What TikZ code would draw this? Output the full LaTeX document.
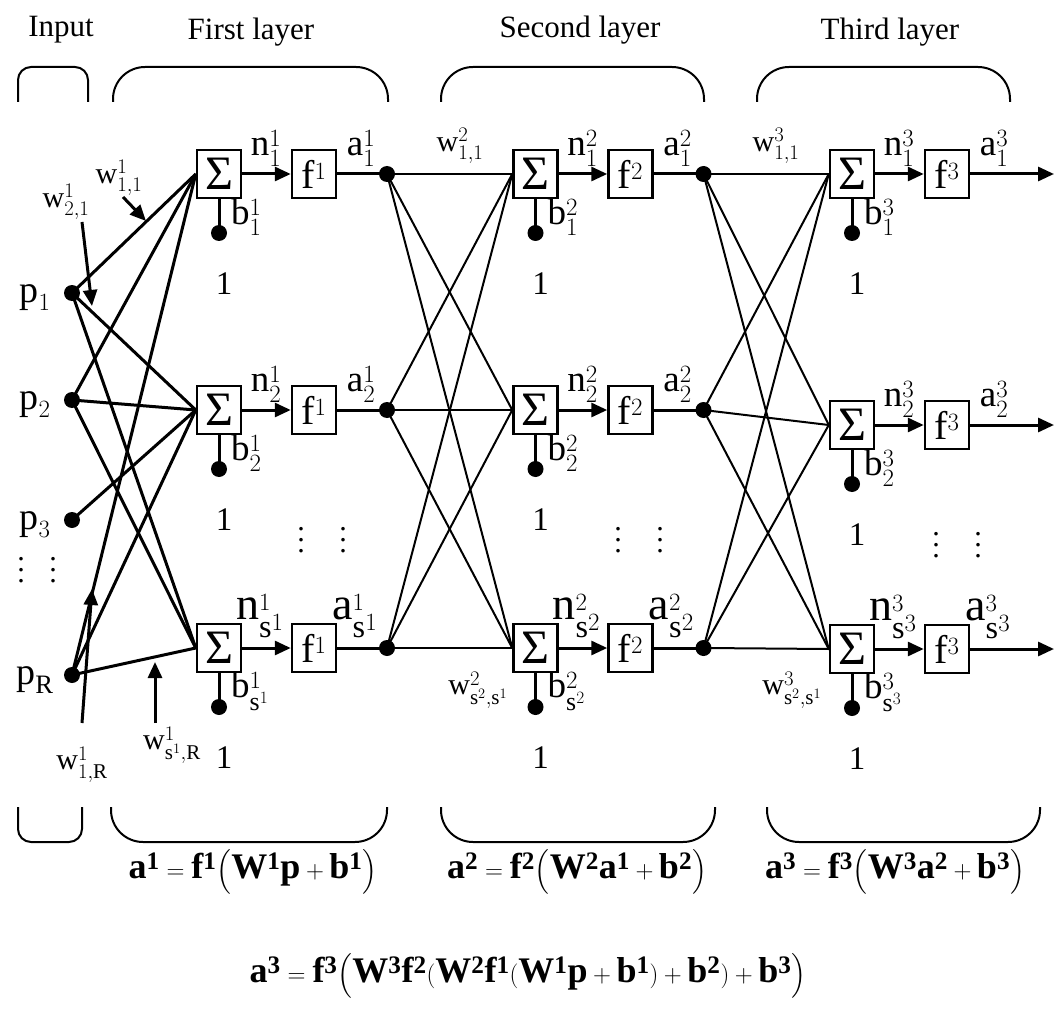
\documentclass[tikz,border=0pt]{standalone}
\usepackage{amsmath}
\usepackage{fontspec}
\setmainfont{Liberation Serif}
\usetikzlibrary{arrows.meta}
\newcommand\lab[3]{$\mathrm{#1}^{#2}_{#3}$}
\newcommand\bv[2]{\mathbf{#1}^{\mathbf{#2}}}
\begin{document}
\begin{tikzpicture}[x=1pt,y=-1pt,
  sumbox/.style={draw,line width=2.5pt,minimum width=44pt,minimum height=48pt,inner sep=0pt,font=\fontsize{48}{48}\selectfont},
  fnbox/.style={draw,line width=2.5pt,minimum width=44pt,minimum height=48pt,inner sep=0pt,font=\fontsize{40}{40}\selectfont},
  nodedot/.style={circle,fill,inner sep=0pt,minimum size=16pt},
  inline/.style={line width=3pt},
  wline/.style={line width=2pt},
  thickline/.style={line width=3pt},
  arr/.style={line width=3pt,-{Triangle[length=16pt,width=14pt]}},
  brace/.style={line width=2pt},
  title/.style={font=\fontsize{31}{31}\selectfont},
  lbl/.style={font=\fontsize{37}{37}\selectfont},
  plbl/.style={font=\fontsize{38}{38}\selectfont},
  wlbl/.style={font=\fontsize{30}{30}\selectfont},
  onelbl/.style={font=\fontsize{33}{33}\selectfont},
  eq/.style={font=\fontsize{36}{40}\selectfont},
  ell/.style={font=\fontsize{30}{11}\selectfont,inner sep=0pt,align=center}
]
\useasboundingbox (0,0) rectangle (1055,1035);

% titles
\node[title] (tin) at (61,30) {Input};
\node[title] (t1) at (251,32) {First layer};
\node[title] (t2) at (580,30) {Second layer};
\node[title] (t3) at (890,32) {Third layer};

% top braces
\draw[brace,rounded corners=13pt] (18,102) -- (18,67) -- (88,67) -- (88,102);
\draw[brace,rounded corners=32pt] (113,102) -- (113,67) -- (388,67) -- (388,102);
\draw[brace,rounded corners=32pt] (441,102) -- (441,67) -- (704,67) -- (704,102);
\draw[brace,rounded corners=32pt] (757,102) -- (757,67) -- (1010,67) -- (1010,102);

% bottom braces
\draw[brace,rounded corners=13pt] (18,807) -- (18,842) -- (82,842) -- (82,807);
\draw[brace,rounded corners=32pt] (111,807) -- (111,842) -- (387,842) -- (387,807);
\draw[brace,rounded corners=32pt] (441,807) -- (441,842) -- (715,842) -- (715,807);
\draw[brace,rounded corners=32pt] (767,807) -- (767,842) -- (1040,842) -- (1040,807);

% layers
\foreach \L/\sx/\ya/\yb/\yc in {1/219/174/410/648, 2/535.5/174/410/648, 3/852/174/425/649}{
  \foreach \r/\y/\sub/\fs/\dn in {a/\ya/1/37/0, b/\yb/2/37/0, c/\yc/{\mathrm{s}^{\L}}/46/6}{
    \node[sumbox] (S\L\r) at (\sx,\y) {Σ};
    \node[fnbox] (F\L\r) at (\sx+95,\y) {$\mathrm{f}^{\L}$};
    \draw[arr] (S\L\r.east) -- (F\L\r.west);
    \node[nodedot] (B\L\r) at (\sx,\y+59) {};
    \draw[thickline] (S\L\r.south) -- (B\L\r.center);
    \node[lbl,anchor=west,inner sep=0pt] (bl\L\r) at (\sx+12,\y+43) {\lab{b}{\L}{\sub}};
    \node[onelbl] (one\L\r) at (\sx+5,\y+110) {1};
    \node[font=\fontsize{\fs}{\fs}\selectfont,inner sep=0pt] (nl\L\r) at (\sx+47-\dn,\y-26-\dn) {\lab{n}{\L}{\sub}};
    \node[font=\fontsize{\fs}{\fs}\selectfont,inner sep=0pt] (al\L\r) at (\sx+142-\dn,\y-26-\dn) {\lab{a}{\L}{\sub}};
    \ifnum\L<3
      \node[nodedot] (A\L\r) at (\sx+168,\y) {};
      \draw[thickline] (F\L\r.east) -- (A\L\r.center);
    \else
      \coordinate (O\r) at (1054,\y);
      \draw[arr] (F\L\r.east) -- (O\r);
    \fi
  }
}

% inter-layer weights
\foreach \i in {a,b,c}{
  \foreach \j in {a,b,c}{
    \draw[wline] (A1\i.center) -- (S2\j.west);
    \draw[wline] (A2\i.center) -- (S3\j.west);
  }
}

% inputs
\node[nodedot] (P1) at (72,293) {};
\node[nodedot] (P2) at (72,400) {};
\node[nodedot] (P3) at (72,520) {};
\node[nodedot] (PR) at (72,675) {};
\node[plbl,inner sep=0pt] (p1l) at (35,298) {$\mathrm{p}_{1}$};
\node[plbl,inner sep=0pt] (p2l) at (35,405) {$\mathrm{p}_{2}$};
\node[plbl,inner sep=0pt] (p3l) at (35,525) {$\mathrm{p}_{3}$};
\node[plbl,inner sep=0pt] (pRl) at (35,680) {$\mathrm{p}_{\mathrm{R}}$};

\foreach \p/\s in {P1/S1a,P1/S1b,P1/S1c,P2/S1a,P2/S1b,P2/S1c,P3/S1b,PR/S1a,PR/S1b,PR/S1c}{
  \draw[inline] (\p.center) -- (\s.west);
}

% input weight labels and arrows
\node[wlbl,inner sep=0pt] (w11) at (119,178) {\lab{w}{1}{1,1}};
\node[wlbl,inner sep=0pt] (w21) at (66,202) {\lab{w}{1}{2,1}};
\node[wlbl,inner sep=0pt] (w1R) at (82,765) {\lab{w}{1}{1,\mathrm{R}}};
\node[wlbl,inner sep=0pt] (wsR) at (172,745) {\lab{w}{1}{\mathrm{s}^{1},\mathrm{R}}};
\coordinate (w11t) at (146,221);
\coordinate (w21t) at (92,306);
\coordinate (w1Rt) at (92,589);
\coordinate (wsRt) at (155,662);
\draw[arr] (123,197) -- (w11t);
\draw[arr] (82,222) -- (w21t);
\draw[arr] (82,723) -- (w1Rt);
\draw[arr] (155,723) -- (wsRt);

% layer 2/3 weight labels
\node[wlbl,inner sep=0pt] (w2a) at (460,146) {\lab{w}{2}{1,1}};
\node[wlbl,inner sep=0pt] (w2b) at (478,690) {\lab{w}{2}{\mathrm{s}^{2},\mathrm{s}^{1}}};
\node[wlbl,inner sep=0pt] (w3a) at (776,146) {\lab{w}{3}{1,1}};
\node[wlbl,inner sep=0pt] (w3b) at (792,690) {\lab{w}{3}{\mathrm{s}^{2},\mathrm{s}^{1}}};

% ellipses
\foreach \n/\x/\y in {e0a/21/570, e0b/53/570, e1a/301/540, e1b/343/540, e2a/618/540, e2b/660/540, e3a/936/545, e3b/978/545}{
  \node[ell] (\n) at (\x,\y) {.\\.\\.};
}

% equations
\node[eq] (eq1) at (253,872) {$\bv{a}{1}=\bv{f}{1}\Bigl(\bv{W}{1}\mathbf{p}+\bv{b}{1}\Bigr)$};
\node[eq] (eq2) at (577,872) {$\bv{a}{2}=\bv{f}{2}\Bigl(\bv{W}{2}\bv{a}{1}+\bv{b}{2}\Bigr)$};
\node[eq] (eq3) at (895,872) {$\bv{a}{3}=\bv{f}{3}\Bigl(\bv{W}{3}\bv{a}{2}+\bv{b}{3}\Bigr)$};
\node[eq] (eq4) at (528,976) {$\bv{a}{3}=\bv{f}{3}\Bigl(\bv{W}{3}\bv{f}{2}(\bv{W}{2}\bv{f}{1}(\bv{W}{1}\mathbf{p}+\bv{b}{1})+\bv{b}{2})+\bv{b}{3}\Bigr)$};
\end{tikzpicture}
\end{document}
